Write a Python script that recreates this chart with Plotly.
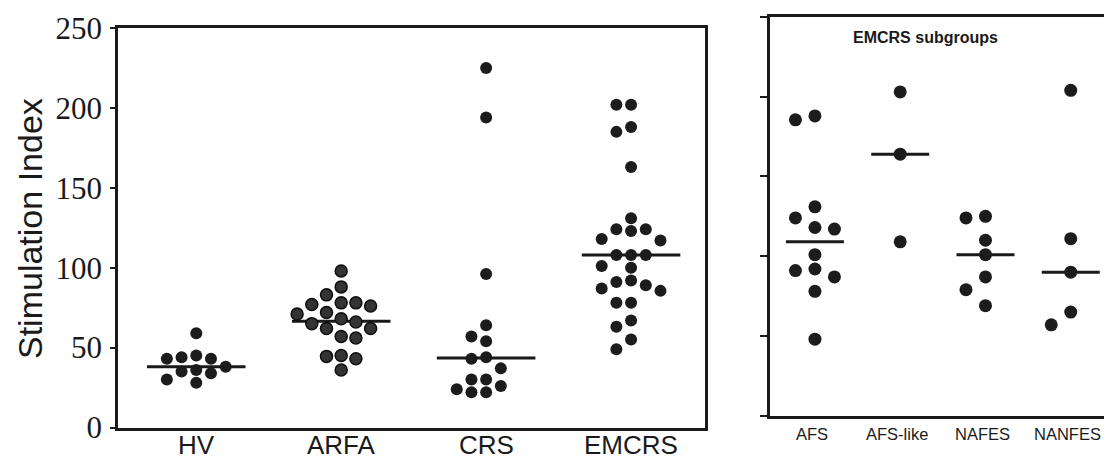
import numpy as np
import plotly.graph_objects as go

# ---------------- data ----------------
main_groups = ["HV", "ARFA", "CRS", "EMCRS"]
hv = [59, 45, 44, 43, 43, 38, 36, 35, 34, 30, 28]
arfa = [98, 88, 83, 78, 78, 77, 76, 72, 71, 68, 66, 65, 62, 62, 57, 56, 45, 44.5, 43, 36]
crs = [225, 194, 96, 64, 57, 54, 44, 43, 37, 30, 30, 26, 24, 22, 22]
emcrs = [202, 202, 188, 185, 163, 131, 124, 124, 123, 118, 117, 108, 108, 108,
         101, 100, 92, 91, 89, 87, 85.5, 78, 78, 67, 63, 55, 49]
main_medians = [38, 66.5, 43.5, 108]

sub_groups = ["AFS", "AFS-like", "NAFES", "NANFES"]
afs = [188, 185.5, 131, 124, 118, 117, 101, 92, 91, 87, 78, 48]
afs_like = [203, 164, 109]
nafes = [125, 124, 110, 101, 87, 79, 69]
nanfes = [204, 111, 90, 65, 57]
sub_medians = [109, 164, 101, 90]

y_ticks = [0, 50, 100, 150, 200, 250]
y_title = "Stimulation Index"
sub_title = "EMCRS subgroups"

# ---------------- layout geometry ----------------
W, H = 1104, 461
L_DOM_X = [118 / W, 705 / W]
L_DOM_Y = [(H - 427.5) / H, (H - 28) / H]
R_DOM_X = [770 / W, 1.0]
R_DOM_Y = [(H - 415.7) / H, (H - 17) / H]
L_RANGE_X = [-0.54, 3.51]
R_RANGE_X = [-0.527, 3.39]
Y_RANGE = [0, 250]
HALF = 0.34          # half-length of the median bar, in category units
INK = "#1a1a1a"
SANS = "Liberation Sans, Arial"
SERIF = "Liberation Serif, Times New Roman"


def px_per_unit(dom, rng, total):
    return (dom[1] - dom[0]) * total / (rng[1] - rng[0])


def swarm_offsets(values, dot_px, slot_px, ppx, ppy):
    """Greedy column swarm: each point takes the nearest free column slot."""
    gap = dot_px / ppy
    taken = {}
    out = [0.0] * len(values)
    cand = [0, -1, 1, -2, 2, -3, 3, -4, 4]
    for i in np.argsort(values, kind="stable")[::-1]:
        v = values[i]
        for s in cand:
            if all(abs(v - u) >= gap for u in taken.get(s, [])):
                taken.setdefault(s, []).append(v)
                out[i] = s * slot_px / ppx
                break
    return out


fig = go.Figure()


def add_panel(groups, medians, xa, ya, dot_px, slot_px, ppx, ppy, styles):
    # median bars
    mx, my = [], []
    for i, m in enumerate(medians):
        mx += [i - HALF, i + HALF, None]
        my += [m, m, None]
    fig.add_trace(go.Scatter(x=mx, y=my, mode="lines", xaxis=xa, yaxis=ya,
                             line=dict(color=INK, width=3), hoverinfo="skip",
                             showlegend=False))
    # individual points
    for i, vals in enumerate(groups):
        offs = swarm_offsets(vals, dot_px, slot_px, ppx, ppy)
        fill, edge, ew = styles[i]
        fig.add_trace(go.Scatter(
            x=[i + o for o in offs], y=vals, mode="markers", xaxis=xa, yaxis=ya,
            marker=dict(size=dot_px, color=fill, line=dict(color=edge, width=ew)),
            showlegend=False))


l_ppx = px_per_unit(L_DOM_X, L_RANGE_X, W)
l_ppy = px_per_unit(L_DOM_Y, Y_RANGE, H)
r_ppx = px_per_unit(R_DOM_X, R_RANGE_X, W)
r_ppy = px_per_unit(R_DOM_Y, Y_RANGE, H)

solid = ("#1c1c1c", "#1c1c1c", 0)
ringed = ("#333333", "#0e0e0e", 1.5)
add_panel([hv, arfa, crs, emcrs], main_medians, "x", "y", 12, 14.7, l_ppx, l_ppy,
          [solid, ringed, solid, solid])
add_panel([afs, afs_like, nafes, nanfes], sub_medians, "x2", "y2", 13, 19.5, r_ppx, r_ppy,
          [solid, solid, solid, solid])

axis_common = dict(showgrid=False, zeroline=False, linecolor=INK, automargin=False)

# category labels under each panel
annotations = []
for i, name in enumerate(main_groups):
    annotations.append(dict(text=name, xref="x", yref="paper", x=i, y=(H - 445) / H,
                            xanchor="center", yanchor="middle", showarrow=False,
                            font=dict(family=SANS, size=26, color=INK)))
for i, name in enumerate(sub_groups):
    annotations.append(dict(text=name, xref="x2", yref="paper", x=i, y=(H - 434) / H,
                            xanchor="center", yanchor="middle", showarrow=False,
                            xshift=-3, font=dict(family=SANS, size=16.5, color=INK)))
annotations += [
    dict(text=y_title, xref="paper", yref="paper", x=30 / W, y=(H - 229) / H,
         xanchor="center", yanchor="middle", textangle=-90, showarrow=False,
         font=dict(family=SANS, size=34, color=INK)),
    dict(text="<b>" + sub_title + "</b>", xref="paper", yref="paper",
         x=925 / W, y=(H - 38) / H, xanchor="center", yanchor="middle",
         showarrow=False, font=dict(family=SANS, size=16, color=INK)),
]

fig.update_layout(
    width=W, height=H,
    margin=dict(l=0, r=0, t=0, b=0),
    paper_bgcolor="white", plot_bgcolor="white",
    xaxis=dict(domain=L_DOM_X, range=L_RANGE_X, showticklabels=False, ticks="",
               showline=True, linewidth=2.5, mirror=True, **axis_common),
    yaxis=dict(domain=L_DOM_Y, range=Y_RANGE, tickvals=y_ticks, ticks="outside",
               ticklen=5, tickwidth=2, tickcolor=INK, showline=True, linewidth=2.5,
               mirror=True, tickfont=dict(family=SERIF, size=31, color=INK),
               ticklabelstandoff=2, **axis_common),
    xaxis2=dict(domain=R_DOM_X, range=R_RANGE_X, anchor="y2", showticklabels=False,
                ticks="", showline=True, linewidth=3, mirror=True, **axis_common),
    yaxis2=dict(domain=R_DOM_Y, range=Y_RANGE, anchor="x2", tickvals=y_ticks,
                ticks="outside", ticklen=7, tickwidth=2, tickcolor=INK,
                showticklabels=False, showline=True, linewidth=3, mirror=False,
                **axis_common),
    annotations=annotations,
)

fig.write_html("out.html")
